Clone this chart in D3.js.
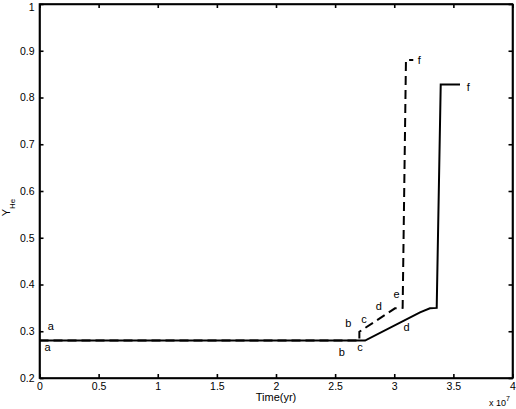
<!DOCTYPE html>
<html><head><meta charset="utf-8">
<script src="https://cdn.jsdelivr.net/npm/d3@7"></script>
<style>
html,body{margin:0;padding:0;background:#fff;}
svg{display:block;}
text{font-family:"Liberation Sans",Arial,Helvetica,sans-serif;fill:#000;}
</style></head>
<body>
<script>
// Time in units of 1e7 yr
const timeSolid  = [0, 2.753, 3.218, 3.302, 3.359, 3.393, 3.556];
const yheSolid   = [0.28, 0.28, 0.3405, 0.349, 0.35, 0.828, 0.828];
const timeDashed = [0, 2.705, 2.705, 3.006, 3.071, 3.099, 3.161];
const yheDashed  = [0.28, 0.28, 0.299, 0.349, 0.35, 0.880, 0.880];
const xTicks = [0, 0.5, 1, 1.5, 2, 2.5, 3, 3.5, 4];
const yTicks = [0.2, 0.3, 0.4, 0.5, 0.6, 0.7, 0.8, 0.9, 1];
const labelText = ["a", "a", "b", "b", "c", "c", "d", "d", "e", "f", "f"];
const labelX    = [0.095, 0.069, 2.611, 2.556, 2.744, 2.710, 2.870, 3.105, 3.020, 3.212, 3.626];
const labelY    = [0.312, 0.267, 0.317, 0.256, 0.327, 0.267, 0.355, 0.309, 0.380, 0.880, 0.823];

const W = 516, H = 409;
const L = 39.5, R = 512.5, T = 4, B = 378;
const svg = d3.select("body").append("svg").attr("width", W).attr("height", H);
const x = d3.scaleLinear().domain([0, 4]).range([L, R]);
const y = d3.scaleLinear().domain([0.2, 1]).range([B, T]);

const fmt = d => String(d);
const tl = 4;
const gx = svg.append("g").attr("transform", `translate(0,${B})`)
  .call(d3.axisBottom(x).tickValues(xTicks).tickFormat(fmt).tickSizeInner(-tl).tickSizeOuter(0).tickPadding(5));
const gt = svg.append("g").attr("transform", `translate(0,${T})`)
  .call(d3.axisTop(x).tickValues(xTicks).tickFormat("").tickSizeInner(-tl).tickSizeOuter(0));
const gy = svg.append("g").attr("transform", `translate(${L},0)`)
  .call(d3.axisLeft(y).tickValues(yTicks).tickFormat(fmt).tickSizeInner(-tl).tickSizeOuter(0).tickPadding(5));
const gr = svg.append("g").attr("transform", `translate(${R},0)`)
  .call(d3.axisRight(y).tickValues(yTicks).tickFormat("").tickSizeInner(-tl).tickSizeOuter(0));
[gx, gt, gy, gr].forEach(g => {
  g.select(".domain").attr("stroke", "#000").attr("stroke-width", 1.6);
  g.selectAll(".tick line").attr("stroke", "#000").attr("stroke-width", 1.6);
  g.selectAll(".tick text").attr("font-size", 10.5).attr("fill", "#000")
    .style("font-family", '"Liberation Sans",Arial,sans-serif');
});
gy.selectAll(".tick text").filter(d => d === 1).attr("dy", "0.62em");
svg.append("rect").attr("x", L).attr("y", T).attr("width", R - L).attr("height", B - T)
  .attr("fill", "none").attr("stroke", "#000").attr("stroke-width", 1.6);

const line = d3.line().x(d => x(d[0])).y(d => y(d[1]));
const solid = timeSolid.map((t, i) => [t, yheSolid[i]]);
const dashed = timeDashed.map((t, i) => [t, yheDashed[i]]);
svg.append("path").attr("d", line(solid)).attr("fill", "none")
  .attr("stroke", "#000").attr("stroke-width", 2);
svg.append("path").attr("d", line(dashed)).attr("fill", "none")
  .attr("stroke", "#000").attr("stroke-width", 2).attr("stroke-dasharray", "9,5");

svg.selectAll("text.lbl").data(labelText).enter().append("text").attr("class", "lbl")
  .attr("x", (d, i) => x(labelX[i])).attr("y", (d, i) => y(labelY[i]))
  .attr("text-anchor", "middle").attr("dominant-baseline", "central")
  .attr("font-size", 11).text(d => d);

svg.append("text").attr("x", (L + R) / 2).attr("y", 401).attr("text-anchor", "middle")
  .attr("font-size", 11).text("Time(yr)");
const yl = svg.append("text").attr("transform", `translate(10,207.5) rotate(-90)`)
  .attr("text-anchor", "middle").attr("font-size", 11);
yl.append("tspan").text("Y");
yl.append("tspan").attr("font-size", 8).attr("dy", 5).text("He");
const ex = svg.append("text").attr("x", 489).attr("y", 406).attr("font-size", 9);
ex.append("tspan").text("x 10");
ex.append("tspan").attr("font-size", 7).attr("dy", -5).text("7");
</script>
</body></html>
